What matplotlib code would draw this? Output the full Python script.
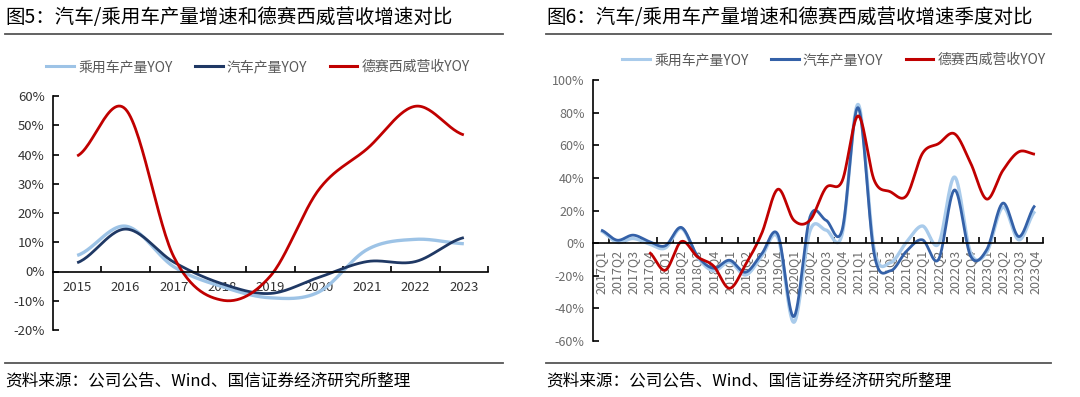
import numpy as np
import matplotlib
matplotlib.use('Agg')
import matplotlib.pyplot as plt
from matplotlib.lines import Line2D

plt.rcParams['font.family'] = ['Noto Sans CJK SC', 'DejaVu Sans']
plt.rcParams['axes.unicode_minus'] = False

# ---------------- data ----------------
years = ['2015', '2016', '2017', '2018', '2019', '2020', '2021', '2022', '2023']
annual_passenger_yoy = [5.5, 15.5, 1.6, -5.2, -9.0, -7.0, 7.5, 11.0, 9.5]
annual_auto_yoy = [3.0, 14.5, 3.2, -4.2, -7.5, -2.0, 3.4, 3.4, 11.6]
annual_desay_yoy = [39.5, 55.5, 5.0, -9.8, -1.5, 28.0, 42.0, 56.5, 46.7]

quarters = ['2017Q1', '2017Q2', '2017Q3', '2017Q4',
            '2018Q1', '2018Q2', '2018Q3', '2018Q4',
            '2019Q1', '2019Q2', '2019Q3', '2019Q4',
            '2020Q1', '2020Q2', '2020Q3', '2020Q4',
            '2021Q1', '2021Q2', '2021Q3', '2021Q4',
            '2022Q1', '2022Q2', '2022Q3', '2022Q4',
            '2023Q1', '2023Q2', '2023Q3', '2023Q4']
q_passenger_yoy = [7.5, 0.5, 2.8, -0.5,
                   -3.0, 9.0, -8.5, -17.0,
                   -11.5, -19.5, -8.0, 3.5,
                   -48.5, 7.5, 8.0, 5.5,
                   85.0, -4.0, -12.0, 0.5,
                   10.5, -0.5, 40.5, -6.0,
                   -5.5, 22.0, 2.0, 19.5]
q_auto_yoy = [8.0, 1.8, 4.9, 1.0,
              -1.6, 9.6, -7.8, -15.4,
              -10.5, -17.8, -6.5, 5.3,
              -45.0, 16.0, 14.0, 8.0,
              83.0, -7.0, -17.0, -5.0,
              2.0, -10.0, 32.6, -8.0,
              -4.0, 24.5, 4.0, 23.0]
q_desay_yoy = [np.nan, np.nan, np.nan, -5.7,
               -16.6, 1.0, -8.4, -14.0,
               -27.7, -13.0, 6.0, 33.0,
               14.0, 14.0, 34.0, 38.0,
               78.0, 38.5, 31.5, 29.0,
               55.0, 61.0, 67.0, 49.0,
               27.0, 44.5, 56.0, 54.5]

series_names = ['乘用车产量YOY', '汽车产量YOY', '德赛西威营收YOY']
annual_ticks = [-20, -10, 0, 10, 20, 30, 40, 50, 60]
quarter_ticks = [-60, -40, -20, 0, 20, 40, 60, 80, 100]

title_left = '图5：汽车/乘用车产量增速和德赛西威营收增速对比'
title_right = '图6：汽车/乘用车产量增速和德赛西威营收增速季度对比'
source_text = '资料来源：公司公告、Wind、国信证券经济研究所整理'


def smooth(values, n=30):
    v = np.asarray(values, dtype=float)
    idx = np.arange(len(v))
    valid = ~np.isnan(v)
    p = v[valid]
    xi = idx[valid]
    m = len(p)
    xs, ys = [], []
    t = np.linspace(0, 1, n)
    h00 = 2 * t**3 - 3 * t**2 + 1
    h10 = t**3 - 2 * t**2 + t
    h01 = -2 * t**3 + 3 * t**2
    h11 = t**3 - t**2
    for i in range(m - 1):
        p0 = p[i - 1] if i > 0 else p[i]
        p1 = p[i]
        p2 = p[i + 1]
        p3 = p[i + 2] if i + 2 < m else p[i + 1]
        m1 = (p2 - p0) / 2.0
        m2 = (p3 - p1) / 2.0
        y = h00 * p1 + h10 * m1 + h01 * p2 + h11 * m2
        xs.append(xi[i] + t)
        ys.append(y)
    return np.concatenate(xs), np.concatenate(ys)


def style_axes(ax, ncat, ylim, yticks, tick_color, label_fs, xpad):
    ax.set_xlim(-0.5, ncat - 0.5)
    ax.set_ylim(*ylim)
    for s in ['top', 'right']:
        ax.spines[s].set_visible(False)
    ax.spines['bottom'].set_position(('data', 0))
    ax.spines['bottom'].set_linewidth(1.2)
    ax.spines['left'].set_linewidth(1.2)
    ax.spines['bottom'].set_color('black')
    ax.spines['left'].set_color('black')
    ax.set_yticks(yticks)
    ax.set_yticklabels([f'{v}%' for v in yticks], color=tick_color, fontsize=label_fs)
    ax.tick_params(axis='y', direction='in', length=4, width=1.2, pad=6)
    ax.set_xticks(np.arange(ncat))
    ax.tick_params(axis='x', which='major', length=0, pad=xpad)
    ax.set_xticks(np.arange(0.5, ncat - 0.4, 1.0), minor=True)
    ax.tick_params(axis='x', which='minor', direction='in', length=4, width=1.2)
    ax.patch.set_alpha(0)


fig = plt.figure(figsize=(10.8, 3.97), dpi=100)

# ---------------- left chart ----------------
axL = fig.add_axes([53 / 1080, 1 - 330 / 397, (488 - 53) / 1080, (330 - 96) / 397])
cL = ['#9DC3E6', '#1F3864', '#C00000']
for vals, col, lw in zip([annual_passenger_yoy, annual_auto_yoy, annual_desay_yoy], cL, [2.4, 2.0, 2.0]):
    x, y = smooth(vals)
    axL.plot(x, y, color=col, lw=lw, solid_capstyle='butt')
style_axes(axL, len(years), (-20, 60), annual_ticks, '#333333', 9.5, 7)
axL.set_xticklabels(years, color='#333333', fontsize=9.5)

handlesL = [Line2D([], [], color=c, lw=2.2) for c in cL]
axL.legend(handlesL, series_names, loc='center', bbox_to_anchor=(258 / 1080, 1 - 67 / 397),
           bbox_transform=fig.transFigure, ncol=3, frameon=False, fontsize=10,
           handlelength=2.0, handletextpad=0.3, columnspacing=1.6, labelcolor='#595959')

# ---------------- right chart ----------------
axR = fig.add_axes([593 / 1080, 1 - 341 / 397, (1043 - 593) / 1080, (341 - 80) / 397])
cR = ['#A9CBEB', '#3461A8', '#C00000']
for vals, col, lw in zip([q_passenger_yoy, q_auto_yoy, q_desay_yoy], cR, [2.4, 2.0, 2.0]):
    x, y = smooth(vals)
    axR.plot(x, y, color=col, lw=lw, solid_capstyle='butt')
style_axes(axR, len(quarters), (-60, 100), quarter_ticks, '#6b6b6b', 9, 5)
axR.set_xticklabels(quarters, rotation=90, color='#6b6b6b', fontsize=9, va='top', ha='center')

handlesR = [Line2D([], [], color=c, lw=2.2) for c in cR]
axR.legend(handlesR, series_names, loc='center', bbox_to_anchor=(834 / 1080, 1 - 60 / 397),
           bbox_transform=fig.transFigure, ncol=3, frameon=False, fontsize=10,
           handlelength=2.0, handletextpad=0.3, columnspacing=1.6, labelcolor='#595959')

# ---------------- titles, rules, sources ----------------
for x0, x1, title in [(5, 503, title_left), (546, 1051, title_right)]:
    fig.text(x0 / 1080, 1 - 18 / 397, title, fontsize=14, va='center', ha='left', color='black')
    fig.add_artist(Line2D([x0 / 1080, x1 / 1080], [1 - 34 / 397] * 2, color='#555555', lw=1.3,
                          transform=fig.transFigure))
    fig.add_artist(Line2D([x0 / 1080, x1 / 1080], [1 - 363 / 397] * 2, color='#555555', lw=1.3,
                          transform=fig.transFigure))
    fig.text(x0 / 1080, 1 - 381 / 397, source_text, fontsize=12, va='center', ha='left', color='black')

fig.savefig('out.png', dpi=100)
